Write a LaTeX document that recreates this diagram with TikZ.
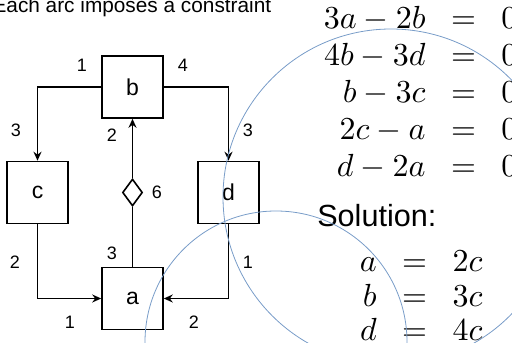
\documentclass[tikz,border=0pt]{standalone}
\usepackage[no-math]{fontspec}
\setmainfont{Liberation Sans}
\usetikzlibrary{arrows.meta,positioning,shapes.geometric}
\DeclareFontShape{OML}{cmm}{m}{it}{<->cmmi10}{}
\DeclareFontShape{OMS}{cmsy}{m}{n}{<->cmsy10}{}
\DeclareFontShape{OT1}{cmr}{m}{n}{<->cmr10}{}

\definecolor{arcblue}{RGB}{120,156,200}

\begin{document}
\begin{tikzpicture}[x=1pt, y=1pt, >={Stealth[length=9pt, width=8pt, inset=3pt]}, line width=1.6pt,
  box/.style={draw, minimum width=61pt, minimum height=62pt, inner sep=0pt, font=\fontsize{23}{26}\selectfont},
  lb/.style={inner sep=0pt, font=\fontsize{18}{20}\selectfont},
  dia/.style={draw, diamond, fill=white, minimum width=20pt, minimum height=27pt, inner sep=0pt},
  eq/.style={inner sep=0pt, anchor=base west},
  arc/.style={draw=arcblue, line width=0.8pt}]
  \useasboundingbox (0,0) rectangle (512,343);
  \clip (0,0) rectangle (512,343);
  % boxes
  \node[box] (b) at (132.5,256) {b};
  \node[box] (c) at (37.5,150.5) {c};
  \node[box] (d) at (228.5,150.5) {d};
  \node[box] (a) at (132.5,44.5) {a};
  \node[dia] (dm) at (132.5,150.5) {};
  % arcs
  \draw[->] (b.west) -| (c.north);
  \draw[->] (b.east) -| (d.north);
  \draw[->] (c.south) |- (a.west);
  \draw[->] (d.south) |- (a.east);
  \draw (a.north) -- (dm.south);
  \draw[->] (dm.north) -- (b.south);
  % weights
  \foreach \n/\p/\t in {wbc/{82,278}/1, wbd/{183,278}/4, wcb/{16,213}/3, wdb/{248,213}/3,
      wba/{112,208}/2, wab/{112,90}/3, wdm/{157,151}/6, wca/{15,81}/2, wda/{248,81}/1,
      wac/{70,21}/1, wad/{194,21}/2}
    \node[lb] (\n) at (\p) {\t};
  % text
  \node[inner sep=0pt, anchor=base east, font=\fontsize{20.8}{24}\selectfont] (cap) at (272,330) {Each arc imposes a constraint};
  \node[eq, font=\fontsize{32}{37}\selectfont] (cons) at (323,314.7)
    {$\begin{array}[t]{@{}r@{\hspace{25.5pt}}c@{\hspace{25.5pt}}l@{}}
      3a-2b & = & 0\\ 4b-3d & = & 0\\ b-3c & = & 0\\ 2c-a & = & 0\\ d-2a & = & 0
    \end{array}$};
  \node[eq, font=\fontsize{30.6}{34}\selectfont] (soltitle) at (316.5,116) {Solution:};
  \node[eq, font=\fontsize{32}{34.5}\selectfont] (sol) at (359,71.3)
    {$\begin{array}[t]{@{}r@{\hspace{25.5pt}}c@{\hspace{25.5pt}}l@{}}
      a & = & 2c\\ b & = & 3c\\ d & = & 4c
    \end{array}$};
  % circles
  \draw[arc] (391,146) circle (168);
  \draw[arc] (276,1) circle (131);
\end{tikzpicture}
\end{document}
